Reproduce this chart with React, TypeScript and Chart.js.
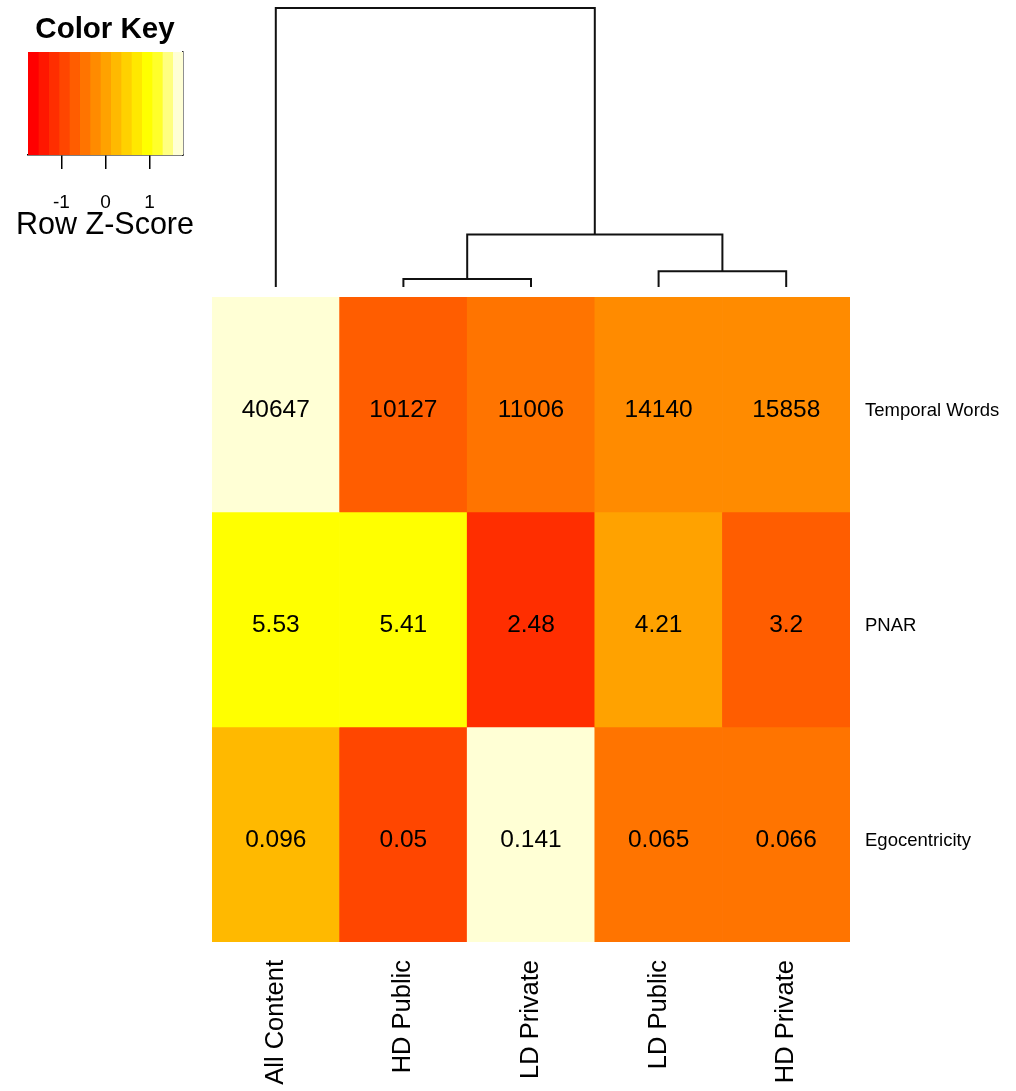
import React, { useEffect, useRef } from "react";
import { Chart, registerables } from "chart.js";

Chart.register(...registerables);

const FONT = "'Liberation Sans', Arial, Helvetica, sans-serif";

// Columns (in dendrogram order) and row variables
const columnLabels = ["All Content", "HD Public", "LD Private", "LD Public", "HD Private"];
const rowLabels = ["Temporal Words", "PNAR", "Egocentricity"];
const temporalWords = [40647, 10127, 11006, 14140, 15858];
const pnar = [5.53, 5.41, 2.48, 4.21, 3.2];
const egocentricity = [0.096, 0.05, 0.141, 0.065, 0.066];

// Column clustering: children of each merge (0-4 are leaves, 5+ are earlier merges) and merge heights
const mergeChildren: [number, number][] = [
  [1, 2],
  [3, 4],
  [5, 6],
  [0, 7],
];
const mergeHeights = [879, 1718, 5731, 30520];

// Colour key tick values
const keyTicks = [-1, 0, 1];

// heat.colors(15)
const heatColors = [
  "#FF0000", "#FF1700", "#FF2E00", "#FF4600", "#FF5D00",
  "#FF7400", "#FF8B00", "#FFA200", "#FFB900", "#FFD100",
  "#FFE800", "#FFFF00", "#FFFF2A", "#FFFF80", "#FFFFD5",
];

// ---- derived values ----
const matrix = [temporalWords, pnar, egocentricity];

function rowZ(row: number[]): number[] {
  const n = row.length;
  const mean = row.reduce((a, b) => a + b, 0) / n;
  const sd = Math.sqrt(row.reduce((a, v) => a + (v - mean) * (v - mean), 0) / (n - 1));
  return row.map((v) => (v - mean) / sd);
}

const zScores = matrix.map(rowZ);
const zExtreme = Math.max(...zScores.flat().map((z) => Math.abs(z)));
const nBands = heatColors.length;
const breaks = Array.from({ length: nBands + 1 }, (_, i) => -zExtreme + (2 * zExtreme * i) / nBands);

function colourFor(z: number): string {
  const i = Math.floor(((z + zExtreme) / (2 * zExtreme)) * nBands);
  return heatColors[Math.min(nBands - 1, Math.max(0, i))];
}

// dendrogram node positions (leaf centres at i + 0.5, merges at midpoint of children)
const nodeX: number[] = columnLabels.map((_, i) => i + 0.5);
const nodeH: number[] = columnLabels.map(() => 0);
const dendroSegments = mergeChildren.map(([l, r], k) => {
  const h = mergeHeights[k];
  const pts = [
    { x: nodeX[l], y: nodeH[l] },
    { x: nodeX[l], y: h },
    { x: nodeX[r], y: h },
    { x: nodeX[r], y: nodeH[r] },
  ];
  nodeX.push((nodeX[l] + nodeX[r]) / 2);
  nodeH.push(h);
  return pts;
});

// keeps an axis from pushing the plot area inwards
const noScalePadding = (s: any) => {
  s.paddingTop = 0;
  s.paddingBottom = 0;
  s.paddingLeft = 0;
  s.paddingRight = 0;
};

// writes each cell's value in the middle of its bar
const cellValuePlugin = {
  id: "cellValues",
  afterDatasetsDraw(chart: any) {
    const ctx = chart.ctx;
    ctx.save();
    ctx.font = `24.5px ${FONT}`;
    ctx.fillStyle = "#000";
    ctx.textAlign = "center";
    ctx.textBaseline = "middle";
    chart.data.datasets.forEach((_: any, r: number) => {
      const meta = chart.getDatasetMeta(r);
      meta.data.forEach((bar: any, j: number) => {
        const { x, y, base } = bar.getProps(["x", "y", "base"], true);
        ctx.fillText(String(matrix[r][j]), x, (y + base) / 2 + 6);
      });
    });
    ctx.restore();
  },
};

export default function App() {
  const keyRef = useRef<HTMLCanvasElement>(null);
  const dendroRef = useRef<HTMLCanvasElement>(null);
  const heatRef = useRef<HTMLCanvasElement>(null);

  useEffect(() => {
    const charts: Chart[] = [];

    // colour key
    charts.push(
      new Chart(keyRef.current as HTMLCanvasElement, {
        type: "bar",
        data: {
          labels: [""],
          datasets: heatColors.map((c, i) => ({
            data: [[breaks[i], breaks[i + 1]]],
            backgroundColor: c,
            borderWidth: 0,
            grouped: false,
            barPercentage: 1,
            categoryPercentage: 1,
          })) as any,
        },
        options: {
          indexAxis: "y",
          responsive: false,
          animation: false,
          events: [],
          layout: { padding: 0, autoPadding: false },
          plugins: {
            legend: { display: false },
            tooltip: { enabled: false },
            title: {
              display: true,
              text: "Color Key",
              color: "#000",
              font: { family: FONT, size: 29.5, weight: "bold" },
              padding: { top: 12, bottom: 4.5 },
            },
            subtitle: {
              display: true,
              position: "bottom",
              text: "Row Z-Score",
              color: "#000",
              font: { family: FONT, size: 30.5, lineHeight: 0.9 },
              padding: { top: 0, bottom: 0 },
            },
          },
          scales: {
            x: {
              type: "linear",
              position: "bottom",
              min: -zExtreme,
              max: zExtreme,
              afterBuildTicks: (s: any) => {
                s.ticks = keyTicks.map((v) => ({ value: v }));
              },
              afterFit: (s: any) => {
                noScalePadding(s);
                s.height = 56.5;
              },
              ticks: {
                color: "#000",
                font: { family: FONT, size: 19 },
                padding: 22,
                callback: (v: any) => String(v),
              },
              grid: {
                display: true,
                drawOnChartArea: false,
                drawTicks: true,
                tickLength: 14,
                color: "#000",
                lineWidth: 1.5,
              },
              border: { display: true, color: "#000", width: 1.5 },
            },
            y: {
              type: "category",
              position: "left",
              ticks: { display: false },
              grid: { display: false },
              border: { display: false },
              afterFit: (s: any) => {
                noScalePadding(s);
                s.width = 28;
              },
            },
            yEdge: {
              type: "category",
              position: "right",
              ticks: { display: false },
              grid: { display: false },
              border: { display: true, color: "#222", width: 1.5 },
              afterFit: (s: any) => {
                noScalePadding(s);
                s.width = 27;
              },
            },
          },
        } as any,
      })
    );

    // column dendrogram
    charts.push(
      new Chart(dendroRef.current as HTMLCanvasElement, {
        type: "scatter",
        data: {
          datasets: dendroSegments.map((pts) => ({
            data: pts,
            showLine: true,
            pointRadius: 0,
            borderColor: "#111",
            borderWidth: 2,
            tension: 0,
            clip: false,
          })) as any,
        },
        options: {
          responsive: false,
          animation: false,
          events: [],
          layout: { padding: { left: 12, right: 12, top: 8, bottom: 10 }, autoPadding: false },
          plugins: { legend: { display: false }, tooltip: { enabled: false } },
          scales: {
            x: { type: "linear", min: 0, max: columnLabels.length, display: false },
            y: { type: "linear", min: 0, max: Math.max(...mergeHeights), display: false },
          },
        } as any,
      })
    );

    // heatmap cells
    charts.push(
      new Chart(heatRef.current as HTMLCanvasElement, {
        type: "bar",
        data: {
          labels: columnLabels,
          datasets: rowLabels.map((name, r) => ({
            label: name,
            data: columnLabels.map(() => [r, r + 1]),
            backgroundColor: zScores[r].map(colourFor),
            borderWidth: 0,
            grouped: false,
            barPercentage: 1,
            categoryPercentage: 1,
          })) as any,
        },
        options: {
          responsive: false,
          animation: false,
          events: [],
          layout: { padding: 0, autoPadding: false },
          plugins: { legend: { display: false }, tooltip: { enabled: false } },
          scales: {
            x: {
              type: "category",
              position: "bottom",
              grid: { display: false, drawTicks: false },
              border: { display: false },
              ticks: {
                autoSkip: false,
                minRotation: 90,
                maxRotation: 90,
                color: "#000",
                font: { family: FONT, size: 25.5 },
                padding: 18,
              },
              afterFit: (s: any) => {
                noScalePadding(s);
                s.height = 149;
              },
            },
            y: {
              type: "linear",
              position: "right",
              reverse: true,
              min: 0,
              max: rowLabels.length,
              grid: { display: false, drawTicks: false },
              border: { display: false },
              afterBuildTicks: (s: any) => {
                s.ticks = rowLabels.map((_, i) => ({ value: i + 0.5 }));
              },
              ticks: {
                color: "#000",
                font: { family: FONT, size: 18.5 },
                padding: 15,
                labelOffset: 6,
                callback: (v: any) => rowLabels[Math.floor(Number(v))],
              },
              afterFit: (s: any) => {
                noScalePadding(s);
                s.width = 166;
              },
            },
          },
        } as any,
        plugins: [cellValuePlugin],
      })
    );

    return () => charts.forEach((c) => c.destroy());
  }, []);

  return (
    <div
      style={{
        position: "absolute",
        left: 0,
        top: 0,
        width: 1016,
        height: 1091,
        overflow: "hidden",
        background: "#fff",
      }}
    >
      <canvas ref={keyRef} width={210} height={239} style={{ position: "absolute", left: 0, top: 0 }} />
      <canvas ref={dendroRef} width={662} height={297} style={{ position: "absolute", left: 200, top: 0 }} />
      <canvas ref={heatRef} width={804} height={794} style={{ position: "absolute", left: 212, top: 297 }} />
    </div>
  );
}
